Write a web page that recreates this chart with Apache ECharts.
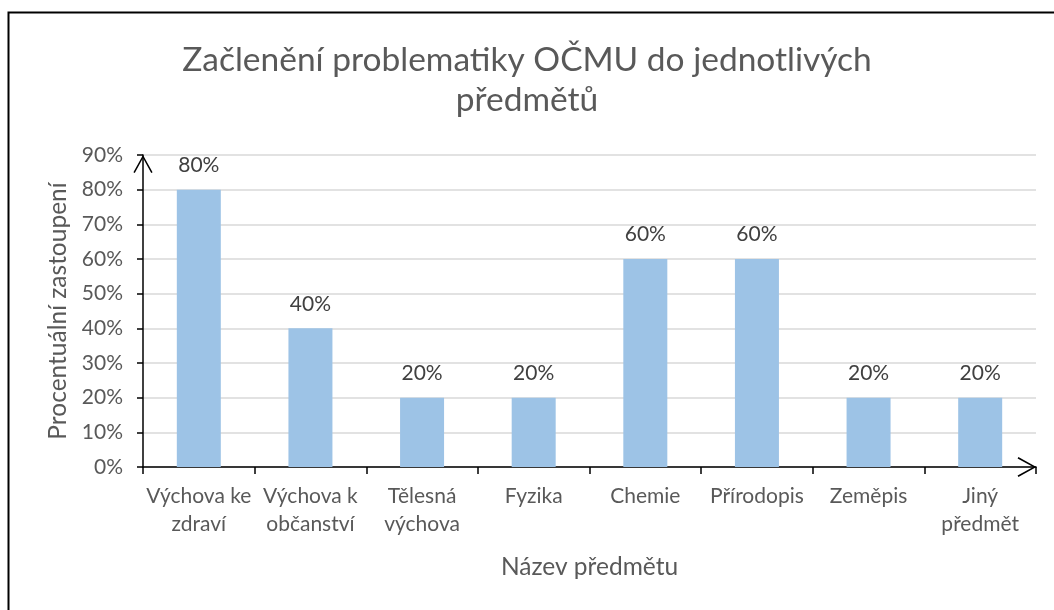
<!DOCTYPE html>
<html>
<head>
<meta charset="utf-8">
<script src="https://cdn.jsdelivr.net/npm/echarts@6/dist/echarts.min.js"></script>
<style>
html,body{margin:0;padding:0;background:#fff;}
#chart{width:1054px;height:610px;}
</style>
</head>
<body>
<div id="chart"></div>
<script>
var categories = ['Výchova ke\nzdraví', 'Výchova k\nobčanství', 'Tělesná\nvýchova', 'Fyzika', 'Chemie', 'Přírodopis', 'Zeměpis', 'Jiný\npředmět'];
var values = [80, 40, 20, 20, 60, 60, 20, 20];
var titleText = 'Začlenění problematiky OČMU do jednotlivých\npředmětů';
var yAxisName = 'Procentuální zastoupení';
var xAxisName = 'Název předmětu';

var FONT = 'Lato';
var TXT = '#595959';
var chart = echarts.init(document.getElementById('chart'));
var chevron = 'path://M0,18 L10,0 L20,18 L18.6,18.8 L10,3.2 L1.4,18.8 Z';
chart.setOption({
  animation: false,
  backgroundColor: '#fff',
  graphic: [{
    type: 'rect', left: 6, top: 10, silent: true,
    shape: {width: 1100, height: 700},
    style: {fill: 'none', stroke: '#000', lineWidth: 2}
  }],
  title: {
    text: titleText,
    left: 'center',
    top: 35,
    textStyle: {fontFamily: FONT, fontSize: 33.5, fontWeight: 'normal', color: TXT, lineHeight: 40}
  },
  grid: {left: 143, right: 18, top: 155, bottom: 143, containLabel: false},
  xAxis: {
    type: 'category',
    data: categories,
    name: xAxisName,
    nameLocation: 'middle',
    nameGap: 88,
    nameTextStyle: {fontFamily: FONT, fontSize: 24.5, color: TXT},
    axisLine: {show: true, lineStyle: {color: '#000', width: 1.5}, symbol: ['none', chevron], symbolSize: [20, 19], symbolOffset: [0, -9]},
    axisTick: {show: true, length: 7, lineStyle: {color: '#000', width: 1.5}},
    axisLabel: {fontFamily: FONT, fontSize: 21, color: TXT, margin: 15, lineHeight: 28, interval: 0},
    splitLine: {show: false}
  },
  yAxis: {
    type: 'value',
    min: 0, max: 90, interval: 10,
    name: yAxisName,
    nameLocation: 'middle',
    nameGap: 70,
    nameTextStyle: {fontFamily: FONT, fontSize: 24.5, color: TXT},
    axisLine: {show: true, lineStyle: {color: '#000', width: 1.5}, symbol: ['none', chevron], symbolSize: [20, 18], symbolOffset: [0, -9]},
    axisTick: {show: true, length: 6, lineStyle: {color: '#000', width: 1.5}},
    axisLabel: {fontFamily: FONT, fontSize: 21, color: TXT, margin: 20, formatter: '{value}%'},
    splitLine: {show: true, lineStyle: {color: '#d9d9d9', width: 1.5}}
  },
  series: [{
    type: 'bar',
    data: values,
    barWidth: 44,
    itemStyle: {color: '#9dc3e6'},
    label: {show: true, position: 'top', distance: 14, formatter: '{c}%', fontFamily: FONT, fontSize: 21, color: '#404040'}
  }]
});
</script>
</body>
</html>
